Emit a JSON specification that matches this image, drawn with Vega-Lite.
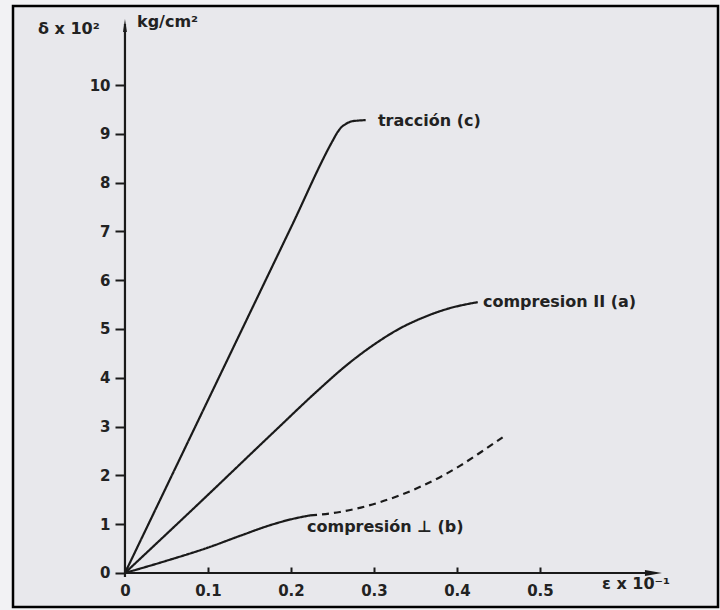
{
  "$schema": "https://vega.github.io/schema/vega-lite/v6.json",
  "width": 705,
  "height": 601,
  "autosize": {"type": "none"},
  "padding": {"left": 13, "top": 6, "right": 2, "bottom": 3},
  "background": "#f2f2f4",
  "config": {
    "view": {"fill": "#e8e8ec", "stroke": "#000000", "strokeWidth": 2.5},
    "font": "DejaVu Sans"
  },
  "datasets": {
    "curves": [
      {"seg": "c", "style": "solid", "i": 0, "x": 0, "y": 0},
      {"seg": "c", "style": "solid", "i": 1, "x": 0.1, "y": 3.54},
      {"seg": "c", "style": "solid", "i": 2, "x": 0.2, "y": 7.08},
      {"seg": "c", "style": "solid", "i": 3, "x": 0.25, "y": 8.85},
      {"seg": "c", "style": "solid", "i": 4, "x": 0.256, "y": 9.03},
      {"seg": "c", "style": "solid", "i": 5, "x": 0.261, "y": 9.14},
      {"seg": "c", "style": "solid", "i": 6, "x": 0.266, "y": 9.2},
      {"seg": "c", "style": "solid", "i": 7, "x": 0.272, "y": 9.25},
      {"seg": "c", "style": "solid", "i": 8, "x": 0.28, "y": 9.27},
      {"seg": "c", "style": "solid", "i": 9, "x": 0.29, "y": 9.28},
      {"seg": "a", "style": "solid", "i": 0, "x": 0, "y": 0},
      {"seg": "a", "style": "solid", "i": 1, "x": 0.09, "y": 1.44},
      {"seg": "a", "style": "solid", "i": 2, "x": 0.18, "y": 2.9},
      {"seg": "a", "style": "solid", "i": 3, "x": 0.233, "y": 3.75},
      {"seg": "a", "style": "solid", "i": 4, "x": 0.27, "y": 4.3},
      {"seg": "a", "style": "solid", "i": 5, "x": 0.3, "y": 4.68},
      {"seg": "a", "style": "solid", "i": 6, "x": 0.33, "y": 5.0},
      {"seg": "a", "style": "solid", "i": 7, "x": 0.36, "y": 5.24},
      {"seg": "a", "style": "solid", "i": 8, "x": 0.39, "y": 5.42},
      {"seg": "a", "style": "solid", "i": 9, "x": 0.425, "y": 5.55},
      {"seg": "b1", "style": "solid", "i": 0, "x": 0, "y": 0},
      {"seg": "b1", "style": "solid", "i": 1, "x": 0.05, "y": 0.25},
      {"seg": "b1", "style": "solid", "i": 2, "x": 0.1, "y": 0.52},
      {"seg": "b1", "style": "solid", "i": 3, "x": 0.14, "y": 0.77},
      {"seg": "b1", "style": "solid", "i": 4, "x": 0.175, "y": 0.98},
      {"seg": "b1", "style": "solid", "i": 5, "x": 0.2, "y": 1.1},
      {"seg": "b1", "style": "solid", "i": 6, "x": 0.223, "y": 1.18},
      {"seg": "b2", "style": "dashed", "i": 0, "x": 0.223, "y": 1.18},
      {"seg": "b2", "style": "dashed", "i": 1, "x": 0.259, "y": 1.25},
      {"seg": "b2", "style": "dashed", "i": 2, "x": 0.307, "y": 1.45},
      {"seg": "b2", "style": "dashed", "i": 3, "x": 0.355, "y": 1.76},
      {"seg": "b2", "style": "dashed", "i": 4, "x": 0.404, "y": 2.2},
      {"seg": "b2", "style": "dashed", "i": 5, "x": 0.43, "y": 2.49},
      {"seg": "b2", "style": "dashed", "i": 6, "x": 0.455, "y": 2.78}
    ],
    "axes": [
      {"x": 0, "y": 0, "x2": 0.64, "y2": 0},
      {"x": 0, "y": -0.08, "x2": 0, "y2": 11.25}
    ],
    "arrows": [
      {"x": 0.6367, "y": 0, "shape": "M-1,-0.35L1,0L-1,0.35Z", "size": 289},
      {"x": 0, "y": 11.22, "shape": "M-0.3,1L0,-1L0.3,1Z", "size": 169}
    ],
    "labels": [
      {"text": "δ x 10²", "x": -0.1048, "y": 11.15},
      {"text": "kg/cm²", "x": 0.0145, "y": 11.29},
      {"text": "ε x 10⁻¹", "x": 0.5747, "y": -0.225},
      {"text": "tracción (c)", "x": 0.3048, "y": 9.26},
      {"text": "compresion II (a)", "x": 0.4313, "y": 5.55},
      {"text": "compresión ⊥ (b)", "x": 0.2193, "y": 0.94}
    ]
  },
  "layer": [
    {
      "data": {"name": "curves"},
      "mark": {"type": "line", "interpolate": "monotone", "strokeWidth": 2.2, "color": "#1a1a1a"},
      "encoding": {
        "x": {
          "field": "x", "type": "quantitative",
          "scale": {"domain": [-0.1349, 0.7145], "nice": false, "zero": false},
          "axis": {
            "values": [0, 0.1, 0.2, 0.3, 0.4, 0.5],
            "labelExpr": "datum.value == 0 ? '0' : format(datum.value, '.1f')",
            "offset": -34, "domain": false, "grid": false,
            "tickSize": -6, "tickWidth": 2, "tickColor": "#1a1a1a",
            "labelPadding": 16, "labelFontSize": 15, "labelFontWeight": "bold",
            "labelColor": "#222222", "title": null
          }
        },
        "y": {
          "field": "y", "type": "quantitative",
          "scale": {"domain": [-0.697, 11.619], "nice": false, "zero": false},
          "axis": {
            "values": [0, 1, 2, 3, 4, 5, 6, 7, 8, 9, 10],
            "format": "d",
            "offset": -112, "domain": false, "grid": false,
            "tickSize": 10, "tickWidth": 2, "tickColor": "#1a1a1a",
            "labelPadding": 5, "labelFontSize": 15, "labelFontWeight": "bold",
            "labelColor": "#222222", "title": null
          }
        },
        "detail": {"field": "seg"},
        "order": {"field": "i", "type": "quantitative"},
        "strokeDash": {
          "field": "style", "type": "nominal",
          "scale": {"domain": ["solid", "dashed"], "range": [[1, 0], [7, 5]]},
          "legend": null
        }
      }
    },
    {
      "data": {"name": "axes"},
      "mark": {"type": "rule", "strokeWidth": 2.2, "color": "#1a1a1a"},
      "encoding": {
        "x": {"field": "x", "type": "quantitative"},
        "y": {"field": "y", "type": "quantitative"},
        "x2": {"field": "x2"},
        "y2": {"field": "y2"}
      }
    },
    {
      "data": {"name": "arrows"},
      "mark": {"type": "point", "filled": true, "opacity": 1, "color": "#1a1a1a"},
      "encoding": {
        "x": {"field": "x", "type": "quantitative"},
        "y": {"field": "y", "type": "quantitative"},
        "shape": {"field": "shape", "type": "nominal", "scale": null},
        "size": {"field": "size", "type": "quantitative", "scale": null}
      }
    },
    {
      "data": {"name": "labels"},
      "mark": {"type": "text", "align": "left", "baseline": "middle", "fontSize": 16, "fontWeight": "bold", "color": "#222222"},
      "encoding": {
        "x": {"field": "x", "type": "quantitative"},
        "y": {"field": "y", "type": "quantitative"},
        "text": {"field": "text"}
      }
    }
  ]
}
